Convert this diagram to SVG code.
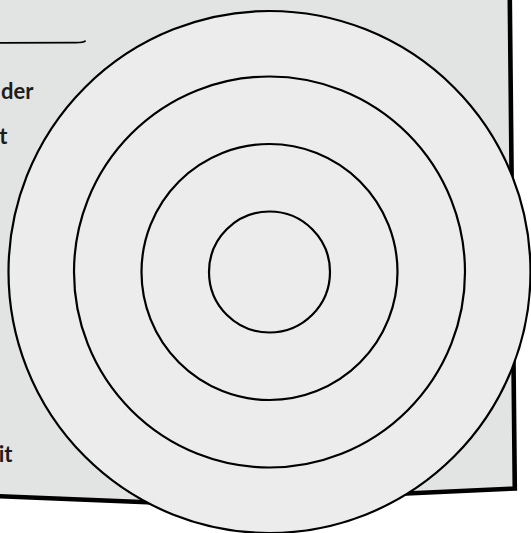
<svg xmlns="http://www.w3.org/2000/svg" width="531" height="533" viewBox="0 0 531 533">
  <style>
    .paper { fill: #e2e3e3; stroke: none; }
    .edge { fill: none; stroke: #000; stroke-width: 4.6; stroke-linejoin: miter; }
    .rule { fill: none; stroke: #000; stroke-width: 1.8; stroke-linecap: round; }
    .label { font-family: Lato, "Liberation Sans", "DejaVu Sans", sans-serif; font-weight: 700; font-size: 22px; fill: #1c1c1c; text-anchor: end; }
    .ring { fill: #ececec; stroke: #000; stroke-width: 2.2; }
  </style>
  <rect x="0" y="0" width="531" height="533" fill="#ffffff"/>
  <g id="paper">
    <polygon class="paper" points="-10,-10 509.7,-10 514.8,488.5 184,503.8 -10,495.8"/>
    <polyline class="edge" points="509.7,-10 514.8,488.5 184,503.8 -10,495.8"/>
    <path class="rule" d="M -5 42.8 L 76 42.7 Q 83.5 42.6 85 41.2"/>
    <text id="label-der" class="label" x="33.5" y="99">der</text>
    <text id="label-t" class="label" x="7.5" y="144">t</text>
    <text id="label-it" class="label" x="12.5" y="461.5">it</text>
  </g>
  <g id="target">
    <circle id="ring-4" class="ring" cx="269.5" cy="272" r="261"/>
    <circle id="ring-3" class="ring" cx="269.5" cy="272" r="195.5"/>
    <circle id="ring-2" class="ring" cx="269.5" cy="272" r="128"/>
    <circle id="ring-1" class="ring" cx="269.5" cy="272" r="60.5"/>
  </g>
</svg>
